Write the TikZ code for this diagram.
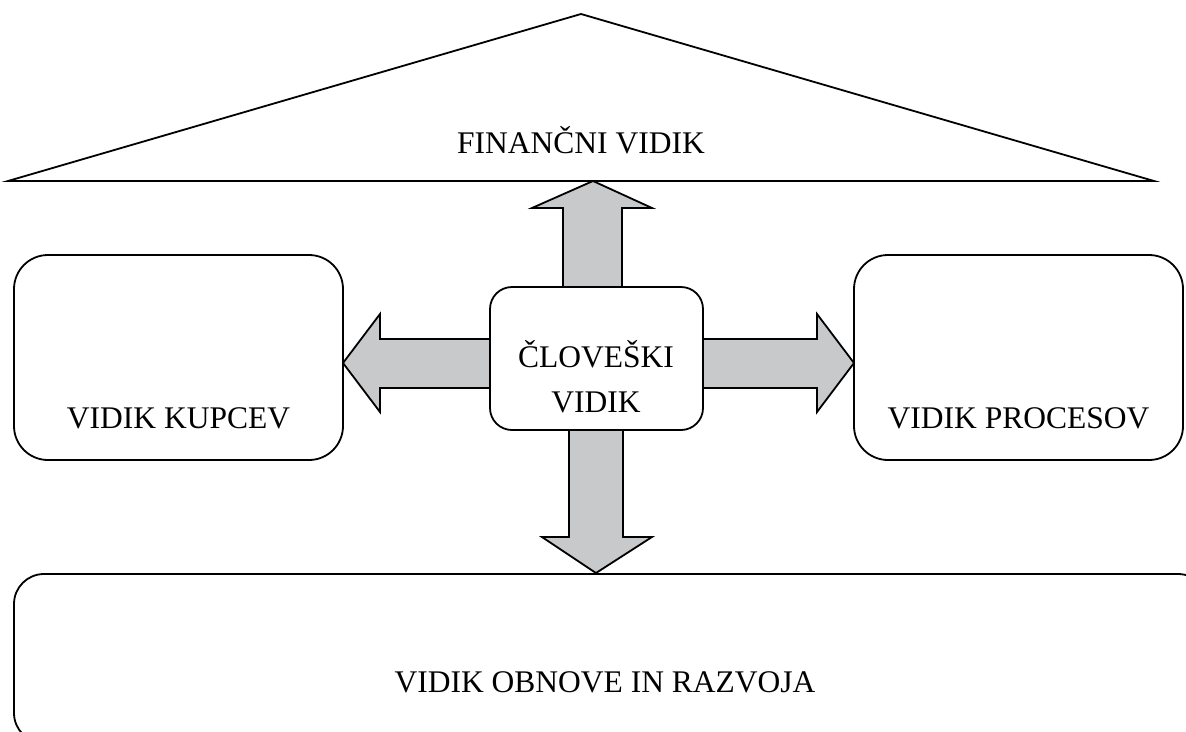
\documentclass[tikz,border=0pt]{standalone}
\usepackage{fontspec}
\setmainfont{Liberation Serif}
\usetikzlibrary{calc}
\definecolor{arrowgray}{HTML}{C8C9CB}
\tikzset{
  edge/.style={draw, line width=1.8pt, line join=miter},
  box/.style={draw, line width=1.8pt, rounded corners=#1, inner sep=0pt},
  blockarrow/.style={draw, fill=arrowgray, line width=1.8pt, line join=miter}
}

\begin{document}
\begin{tikzpicture}[x=1pt,y=-1pt,font=\fontsize{31.5}{44}\selectfont]
  \useasboundingbox (0,0) rectangle (1186,731);
  \clip (0,0) rectangle (1186,731);
  % roof
  \draw[edge] (8,181) coordinate (roofL) -- (581,14) coordinate (roofT)
        -- (1154,181) coordinate (roofR) -- cycle;
  \node[anchor=base] (fin) at (581,153) {FINANČNI VIDIK};
  % arrows
  \draw[blockarrow] (563,287) -- (563,208) -- (532,208) -- (593,181)
        -- (652,208) -- (622,208) -- (622,287) -- cycle;
  \draw[blockarrow] (569,430) -- (569,537) -- (542,537) -- (596,573)
        -- (652,537) -- (623,537) -- (623,430) -- cycle;
  \draw[blockarrow] (490,339) -- (380,339) -- (380,314) -- (343,363)
        -- (380,412) -- (380,388) -- (490,388) -- cycle;
  \draw[blockarrow] (703,339) -- (817,339) -- (817,314) -- (854,363)
        -- (817,412) -- (817,388) -- (703,388) -- cycle;
  % boxes
  \node[box=22, minimum width=213, minimum height=143] (cv) at (596.5,358.5) {};
  \node[anchor=base] (cvtop) at (596,367) {ČLOVEŠKI};
  \node[anchor=base] (cvbot) at (596,412) {VIDIK};
  \node[box=34, minimum width=329, minimum height=205] (kup) at (178.5,357.5) {};
  \node[anchor=base] (kuptext) at (178.5,428) {VIDIK KUPCEV};
  \node[box=34, minimum width=329, minimum height=205] (proc) at (1018.5,357.5) {};
  \node[anchor=base] (proctext) at (1018.5,428) {VIDIK PROCESOV};
  \node[box=30, minimum width=1194, minimum height=169] (obn) at (611,658.5) {};
  \node[anchor=base] (obntext) at (605,692) {VIDIK OBNOVE IN RAZVOJA};
\end{tikzpicture}
\end{document}
